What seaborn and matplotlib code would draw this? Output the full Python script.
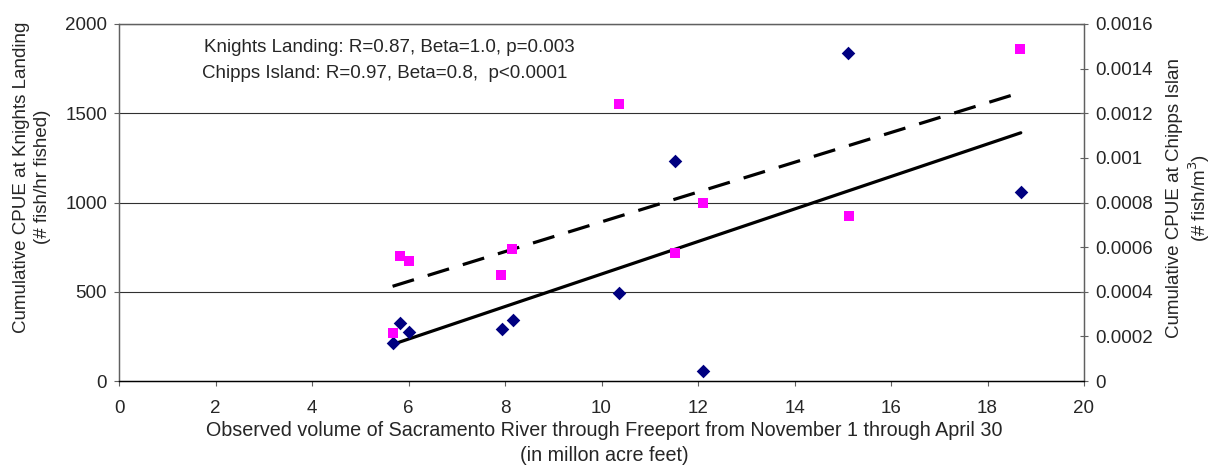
import seaborn as sns
import pandas as pd
import matplotlib.pyplot as plt

# Sacramento River volume (million acre feet) and CPUE at the two sites
knights_volume = [5.68, 5.82, 6.02, 7.94, 8.16, 10.37, 11.53, 12.11, 15.11, 18.69]
knights_cpue = [213, 323, 274, 293, 342, 491, 1234, 58, 1837, 1057]

chipps_volume = [5.67, 5.82, 6.00, 7.92, 8.15, 10.36, 11.52, 12.10, 15.12, 18.67]
chipps_cpue = [0.000215, 0.000562, 0.000536, 0.000475, 0.000592,
               0.001243, 0.000575, 0.000796, 0.000741, 0.001487]

left_ticks = [0, 500, 1000, 1500, 2000]
right_ticks = [0, 0.0002, 0.0004, 0.0006, 0.0008, 0.001, 0.0012, 0.0014, 0.0016]
right_labels = ["0", "0.0002", "0.0004", "0.0006", "0.0008", "0.001", "0.0012", "0.0014", "0.0016"]
x_ticks = list(range(0, 21, 2))

knights = pd.DataFrame({"volume": knights_volume, "cpue": knights_cpue})
chipps = pd.DataFrame({"volume": chipps_volume, "cpue": chipps_cpue})

sns.set_style("white")
plt.rcParams["font.family"] = ["Liberation Sans", "DejaVu Sans"]
FS = 13.5
W, H = 1211, 466

fig, ax = plt.subplots(figsize=(W / 100, H / 100), dpi=100)
fig.subplots_adjust(left=119 / W, right=1084 / W, top=1 - 24 / H, bottom=1 - 381 / H)
ax2 = ax.twinx()

# gridlines on the left axis
for v in left_ticks[1:]:
    ax.axhline(v, color="#303030", lw=0.8, zorder=0)

sns.regplot(data=knights, x="volume", y="cpue", ax=ax, ci=None, truncate=True,
            scatter=False, line_kws={"color": "black", "lw": 2.3})
sns.scatterplot(data=knights, x="volume", y="cpue", ax=ax, marker="D",
                color="#000080", s=48, linewidth=0, zorder=4)

sns.regplot(data=chipps, x="volume", y="cpue", ax=ax2, ci=None, truncate=True,
            scatter=False, line_kws={"color": "black", "lw": 2.3, "linestyle": (0, (7, 4.5))})
sns.scatterplot(data=chipps, x="volume", y="cpue", ax=ax2, marker="s",
                color="#FF00FF", s=55, linewidth=0, zorder=4)

ax.set_xlim(0, 20)
ax.set_ylim(0, 2000)
ax2.set_ylim(0, 0.0016)
ax.set_xticks(x_ticks)
ax.set_xticklabels([str(t) for t in x_ticks])
ax.set_yticks(left_ticks)
ax.set_yticklabels([str(t) for t in left_ticks])
ax2.set_yticks(right_ticks)
ax2.set_yticklabels(right_labels)

ax.tick_params(axis="x", labelsize=FS, length=3.6, width=0.8, color="#606060", direction="out",
               bottom=True, pad=10)
ax.tick_params(axis="y", labelsize=FS, length=3.6, width=0.8, color="#606060", direction="out",
               left=True, pad=5)
ax2.tick_params(axis="y", labelsize=FS, length=6, width=0.8, color="#606060", direction="inout",
                right=True, pad=5)

for a in (ax, ax2):
    for side in ("left", "right", "top"):
        a.spines[side].set_color("#606060")
        a.spines[side].set_linewidth(0.9)
    a.spines["bottom"].set_color("black")
    a.spines["bottom"].set_linewidth(0.9)

ax.set_xlabel("")
ax.set_ylabel("")
ax2.set_ylabel("")
fig.text(604 / W, 1 - 443 / H,
         "Observed volume of Sacramento River through Freeport from November 1 through April 30\n"
         "(in millon acre feet)", fontsize=14.2, ha="center", va="center", linespacing=1.35)
fig.text(32 / W, 1 - 177 / H, "Cumulative CPUE at Knights Landing\n(# fish/hr fished)",
         fontsize=FS, rotation=90, ha="center", va="center", linespacing=1.35)
fig.text(1189 / W, 1 - 198 / H, "Cumulative CPUE at Chipps Islan\n(# fish/m$^3$)",
         fontsize=FS, rotation=90, ha="center", va="center", linespacing=1.2)

ax.text(0.088, 0.935, "Knights Landing: R=0.87, Beta=1.0, p=0.003", transform=ax.transAxes,
        fontsize=FS, va="center", ha="left")
ax.text(0.086, 0.86, "Chipps Island: R=0.97, Beta=0.8,  p<0.0001", transform=ax.transAxes,
        fontsize=FS, va="center", ha="left")

plt.savefig("out.png", dpi=100)
